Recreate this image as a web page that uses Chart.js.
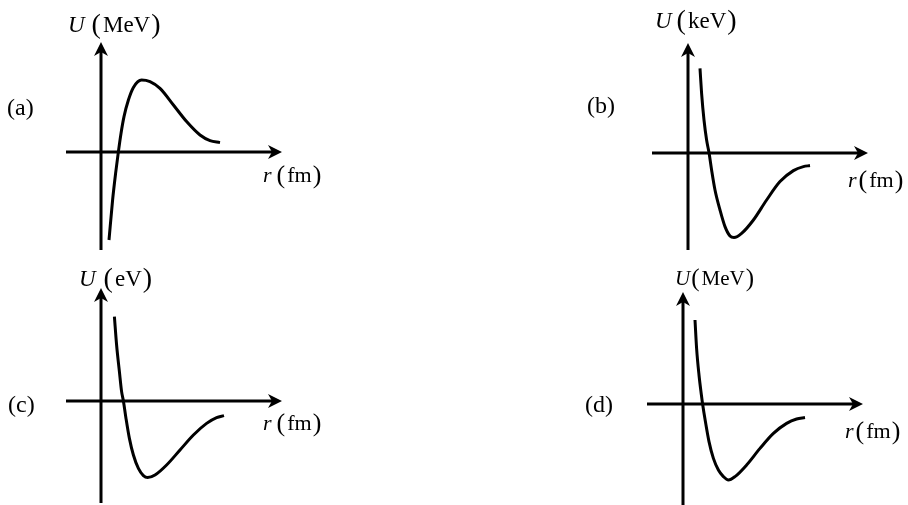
<!DOCTYPE html>
<html>
<head>
<meta charset="utf-8">
<script src="https://cdn.jsdelivr.net/npm/chart.js@4.4.0/dist/chart.umd.min.js"></script>
<style>
  html, body { margin: 0; padding: 0; background: #fff; }
  #wrap { position: relative; width: 908px; height: 505px; overflow: hidden; }
  #wrap canvas { position: absolute; }
</style>
</head>
<body>
<div id="wrap">
  <canvas id="pa" width="454" height="253" style="left:0;top:0"></canvas>
  <canvas id="pb" width="454" height="253" style="left:454px;top:0"></canvas>
  <canvas id="pc" width="454" height="252" style="left:0;top:253px"></canvas>
  <canvas id="pd" width="454" height="252" style="left:454px;top:253px"></canvas>
</div>
<script>
var rA = [0.4, 0.58, 0.73, 0.87, 1.0, 1.15, 1.37, 1.62, 2.03, 2.45, 2.95, 3.62, 4.28, 4.95, 5.45, 5.95];
var uA = [-4.4, -2.4, -1.07, 0.02, 0.93, 1.77, 2.6, 3.23, 3.6, 3.52, 3.18, 2.35, 1.52, 0.85, 0.57, 0.47];

var rB = [0.6, 0.68, 0.8, 0.93, 1.05, 1.18, 1.35, 1.6, 1.85, 2.1, 2.3, 2.68, 3.27, 3.93, 4.6, 5.27, 5.77, 6.1];
var uB = [4.23, 2.98, 1.65, 0.65, 0.02, -0.85, -1.85, -2.85, -3.68, -4.15, -4.23, -4.02, -3.35, -2.35, -1.43, -0.88, -0.68, -0.63];

var rC = [0.67, 0.78, 0.92, 1.03, 1.12, 1.25, 1.42, 1.62, 1.87, 2.12, 2.33, 2.7, 3.28, 3.95, 4.62, 5.28, 5.78, 6.15];
var uC = [4.22, 2.8, 1.47, 0.47, 0, -0.87, -1.87, -2.7, -3.37, -3.73, -3.83, -3.7, -3.2, -2.45, -1.7, -1.12, -0.83, -0.73];

var rD = [0.6, 0.68, 0.8, 0.92, 0.98, 1.12, 1.3, 1.52, 1.77, 2.02, 2.27, 2.6, 3.18, 3.85, 4.52, 5.18, 5.68, 6.1];
var uD = [4.2, 2.78, 1.45, 0.45, 0, -0.88, -1.88, -2.72, -3.3, -3.63, -3.8, -3.63, -3.05, -2.22, -1.47, -0.97, -0.75, -0.68];

var tags = ['(a)', '(b)', '(c)', '(d)'];
var uUnits = ['MeV', 'keV', 'eV', 'MeV'];
var rUnit = 'fm';

var SERIF = '"Liberation Serif", "DejaVu Serif", serif';

function arrowHead(ctx, x, y, dir) {
    // stealth style arrow, dir: 'up' or 'right'
    ctx.save();
    ctx.translate(x, y);
    if (dir === 'up') ctx.rotate(-Math.PI / 2);
    ctx.beginPath();
    ctx.moveTo(0, 0);
    ctx.lineTo(-14, -7);
    ctx.lineTo(-10, 0);
    ctx.lineTo(-14, 7);
    ctx.closePath();
    ctx.fillStyle = '#000';
    ctx.fill();
    ctx.restore();
}

// "U (MeV)" style label: italic symbol, tall brackets, upright unit
function symbolLabel(ctx, sym, unit, x, y, size, gap) {
    var it = 'italic ' + size + 'px ' + SERIF;
    var up = size + 'px ' + SERIF;
    var par = Math.round(size * 1.2) + 'px ' + SERIF;
    ctx.font = it;
    ctx.fillText(sym, x, y);
    x += ctx.measureText(sym).width + gap;
    ctx.font = par;
    ctx.fillText('(', x, y + 1);
    x += ctx.measureText('(').width + 2;
    ctx.font = up;
    ctx.fillText(unit, x, y);
    x += ctx.measureText(unit).width + 1;
    ctx.font = par;
    ctx.fillText(')', x, y + 1);
}

var axesPlugin = {
    id: 'axesPlugin',
    beforeDatasetsDraw: function (chart) {
        var ctx = chart.ctx;
        var xs = chart.scales.x, ys = chart.scales.y;
        var x0 = xs.getPixelForValue(0), y0 = ys.getPixelForValue(0);
        ctx.save();
        ctx.strokeStyle = '#000';
        ctx.lineWidth = 3;
        ctx.beginPath();
        ctx.moveTo(xs.left, y0);
        ctx.lineTo(xs.right - 10, y0);
        ctx.moveTo(x0, ys.bottom);
        ctx.lineTo(x0, ys.top + 10);
        ctx.stroke();
        arrowHead(ctx, xs.right, y0, 'right');
        arrowHead(ctx, x0, ys.top, 'up');
        ctx.restore();
    },
    afterDraw: function (chart) {
        var ctx = chart.ctx;
        var o = chart.options.plugins.axesPlugin;
        ctx.save();
        ctx.fillStyle = '#000';
        ctx.textBaseline = 'alphabetic';
        ctx.textAlign = 'left';
        ctx.font = '24px ' + SERIF;
        ctx.fillText(o.tag, o.tagAt[0], o.tagAt[1]);
        symbolLabel(ctx, 'U', o.unit, o.uAt[0], o.uAt[1], o.uAt[2], o.uAt[3]);
        symbolLabel(ctx, 'r', rUnit, o.rAt[0], o.rAt[1], 22, o.rAt[2]);
        ctx.restore();
    }
};

function makePanel(id, rs, us, lim, pad, labels) {
    var pts = rs.map(function (r, i) { return { x: r, y: us[i] }; });
    new Chart(document.getElementById(id), {
        type: 'scatter',
        data: {
            datasets: [{
                data: pts,
                showLine: true,
                borderColor: '#000',
                borderWidth: 3,
                pointRadius: 0,
                cubicInterpolationMode: 'monotone',
                clip: false
            }]
        },
        options: {
            responsive: false,
            animation: false,
            devicePixelRatio: 1,
            layout: { padding: pad },
            plugins: {
                legend: { display: false },
                tooltip: { enabled: false },
                axesPlugin: labels
            },
            scales: {
                x: { type: 'linear', display: false, min: lim[0], max: lim[1] },
                y: { type: 'linear', display: false, min: lim[2], max: lim[3] }
            }
        },
        plugins: [axesPlugin]
    });
}

makePanel('pa', rA, uA, [-1.75, 9.05, -4.9, 5.5],
    { left: 66, right: 172, top: 42, bottom: 3 },
    { tag: tags[0], tagAt: [7, 115], unit: uUnits[0], uAt: [68, 32, 23, 7], rAt: [263, 182, 5] });

makePanel('pb', rB, uB, [-1.8, 9.0, -4.85, 5.5],
    { left: 198, right: 40, top: 43, bottom: 3 },
    { tag: tags[1], tagAt: [133, 113], unit: uUnits[1], uAt: [201, 28, 23, 5], rAt: [394, 187, 2] });

makePanel('pc', rC, uC, [-1.75, 9.05, -5.1, 5.65],
    { left: 66, right: 172, top: 35, bottom: 2 },
    { tag: tags[2], tagAt: [8, 159], unit: uUnits[2], uAt: [79, 33, 23, 8], rAt: [263, 177, 5] });

makePanel('pd', rD, uD, [-1.8, 9.0, -5.05, 5.6],
    { left: 193, right: 45, top: 39, bottom: 0 },
    { tag: tags[3], tagAt: [131, 159], unit: uUnits[3], uAt: [221, 32, 21, 1], rAt: [391, 185, 2] });
</script>
</body>
</html>
